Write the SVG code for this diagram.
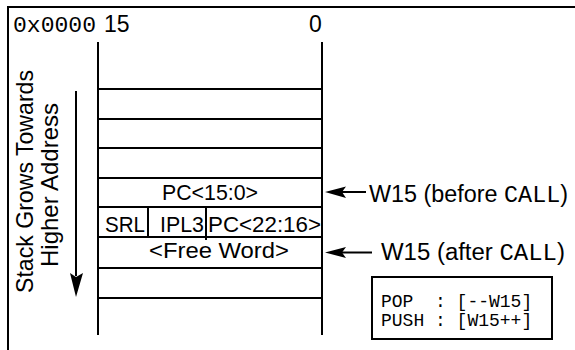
<svg xmlns="http://www.w3.org/2000/svg" width="575" height="350" viewBox="0 0 575 350">
<style>
.ln{stroke:#000;stroke-width:2;fill:none}
.t{font-family:"Liberation Sans",Arial,sans-serif;fill:#000}
.m{font-family:"Liberation Mono","Courier New",monospace;fill:#000;white-space:pre}
</style>
<rect width="575" height="350" fill="#fff"/>
<g id="frame">
<path class="ln" d="M8 350 V7 H575" stroke-width="2.3"/>
<text class="m" x="13" y="32" font-size="22" fill="#333" textLength="83" lengthAdjust="spacingAndGlyphs">0x0000</text>
<text class="t" x="104" y="32" font-size="23">15</text>
<text class="t" x="309" y="32" font-size="23">0</text>
</g>
<g id="stack">
<path class="ln" d="M98 42 V335 M322 42 V335" stroke-width="2.4"/>
<path class="ln" d="M98 89 H322 M97 119 H322 M98 148 H322 M98 178 H322 M98 207 H322 M98 237 H322 M97 268 H322 M98 298 H322"/>
<path class="ln" d="M148 207 V237 M206 207 V240"/>
</g>
<g id="pc15">
<text class="t" x="210" y="200" font-size="22" text-anchor="middle" textLength="96" lengthAdjust="spacingAndGlyphs">PC&lt;15:0&gt;</text>
</g>
<g id="srl">
<text class="t" x="105" y="232" font-size="22" textLength="40" lengthAdjust="spacingAndGlyphs">SRL</text>
</g>
<g id="ipl3">
<text class="t" x="160" y="232" font-size="22" textLength="44" lengthAdjust="spacingAndGlyphs">IPL3</text>
</g>
<g id="pc22">
<text class="t" x="208" y="232" font-size="22" textLength="113" lengthAdjust="spacingAndGlyphs">PC&lt;22:16&gt;</text>
</g>
<g id="free">
<text class="t" x="149" y="258" font-size="22" textLength="140" lengthAdjust="spacingAndGlyphs">&lt;Free Word&gt;</text>
</g>
<g id="growth">
<text class="t" font-size="24" transform="translate(33 181.5) rotate(-90)" text-anchor="middle" textLength="223" lengthAdjust="spacingAndGlyphs">Stack Grows Towards</text>
<text class="t" font-size="24" transform="translate(58 185) rotate(-90)" text-anchor="middle" textLength="164" lengthAdjust="spacingAndGlyphs">Higher Address</text>
</g>
<g id="connectors">
<line class="ln" x1="76" y1="91" x2="76" y2="276"/>
<polygon points="76,297 70,273 76,277 83,273" fill="#000"/>
<line class="ln" x1="340" y1="192" x2="366" y2="192"/>
<polygon points="325,192 346,186.5 342,192 346,198" fill="#000"/>
<line class="ln" x1="340" y1="252.5" x2="372" y2="252.5"/>
<polygon points="325,252.5 346,247 342,252.5 346,258" fill="#000"/>
</g>
<g id="w15before">
<text class="t" x="369" y="202" font-size="23" textLength="199" lengthAdjust="spacingAndGlyphs">W15 (before <tspan class="m">CALL</tspan>)</text>
</g>
<g id="w15after">
<text class="t" x="381" y="260" font-size="23" textLength="184" lengthAdjust="spacingAndGlyphs">W15 (after <tspan class="m">CALL</tspan>)</text>
</g>
<g id="legend">
<rect x="372" y="277" width="180" height="62" fill="none" stroke="#000" stroke-width="2"/>
<text class="m" x="381" y="307" font-size="18">POP  : [--W15]</text>
<text class="m" x="381" y="326" font-size="18">PUSH : [W15++]</text>
</g>
</svg>
